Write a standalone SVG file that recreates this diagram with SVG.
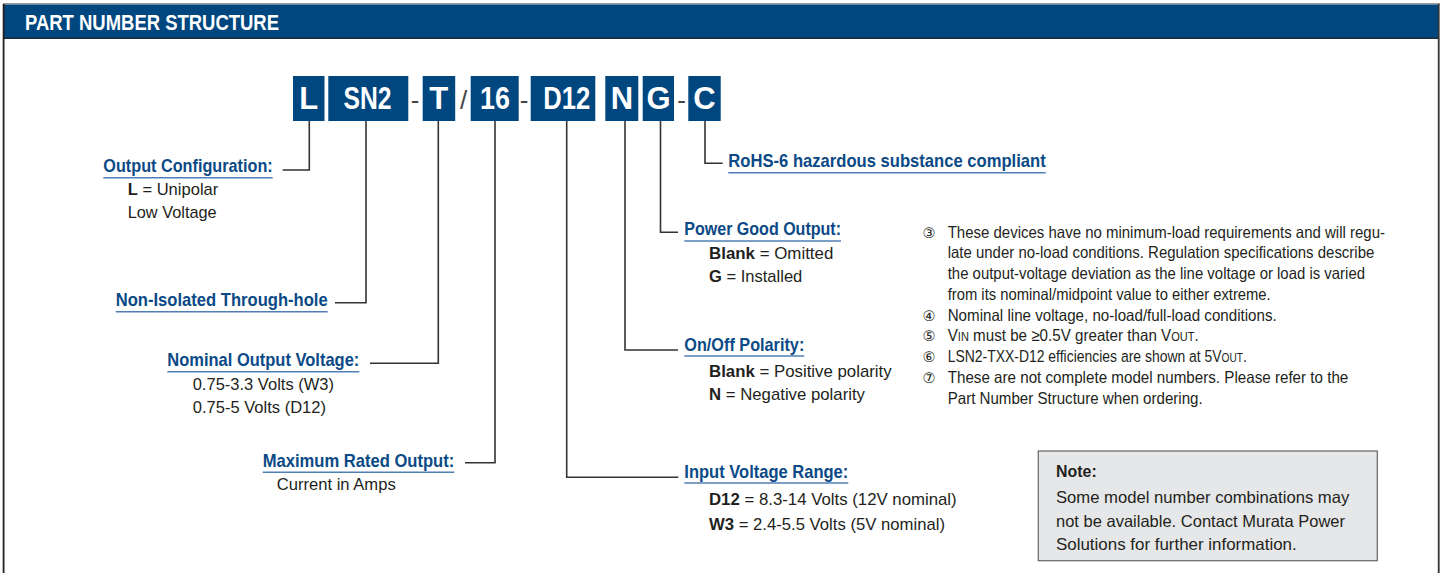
<svg xmlns="http://www.w3.org/2000/svg" width="1443" height="573" viewBox="0 0 1443 573">
<defs>
<style>
.hdr{font-family:"Liberation Sans Narrow","Liberation Sans",Arial,sans-serif;font-weight:bold;font-size:21.5px;fill:#ffffff}
.pbox{fill:#00467f}
.ptxt{font-family:"Liberation Sans Narrow","Liberation Sans",Arial,sans-serif;font-weight:bold;font-size:31px;fill:#ffffff;text-anchor:middle}
.sep{font-family:"Liberation Sans","Arial",sans-serif;font-size:26px;fill:#444444;text-anchor:middle}
.lbl{font-family:"Liberation Sans Narrow","Liberation Sans",Arial,sans-serif;font-weight:bold;font-size:19px;fill:#0b4a86}
.ul{stroke:#4f7fb3;stroke-width:1.4;fill:none}
.body{font-family:"Liberation Sans Narrow","Liberation Sans",Arial,sans-serif;font-size:17px;fill:#231f20}
.note{font-family:"Liberation Sans Narrow","Liberation Sans",Arial,sans-serif;font-size:16.5px;fill:#231f20}
.num{font-family:"DejaVu Sans","Noto Sans CJK JP",sans-serif;font-size:14.5px;fill:#231f20;text-anchor:middle}
.b{font-weight:bold}
.conn{stroke:#333333;stroke-width:1.6;fill:none}
</style>
</defs>

<!-- frame -->
<g id="frame">
<rect x="3" y="3" width="1437" height="1.5" fill="#9a9a9a"/>
<rect x="3" y="4.5" width="1436" height="34" fill="#00467f"/>
<rect x="3" y="37.5" width="1436" height="1.5" fill="#1d2a3a"/>
<rect x="2.7" y="4" width="1.8" height="569" fill="#231f20"/>
<rect x="1437.8" y="4" width="1.8" height="569" fill="#333333"/>
<text class="hdr" x="25" y="30" textLength="254" lengthAdjust="spacingAndGlyphs">PART NUMBER STRUCTURE</text>
</g>

<!-- part number boxes -->
<g id="part-L"><rect class="pbox" x="293" y="76" width="31.5" height="45"/><text class="ptxt" x="308.7" y="109">L</text></g>
<g id="part-SN2"><rect class="pbox" x="328.3" y="76" width="80" height="45"/><text class="ptxt" x="367.5" y="109" textLength="48" lengthAdjust="spacingAndGlyphs">SN2</text></g>
<g id="sep1"><text class="sep" x="415" y="109">-</text></g>
<g id="part-T"><rect class="pbox" x="422.7" y="76" width="32.5" height="45"/><text class="ptxt" x="438.8" y="109">T</text></g>
<g id="sep2"><text class="sep" x="463.5" y="109">/</text></g>
<g id="part-16"><rect class="pbox" x="470.7" y="76" width="48" height="45"/><text class="ptxt" x="495" y="109" textLength="30" lengthAdjust="spacingAndGlyphs">16</text></g>
<g id="sep3"><text class="sep" x="524" y="109">-</text></g>
<g id="part-D12"><rect class="pbox" x="530.7" y="76" width="64.6" height="45"/><text class="ptxt" x="566.7" y="109" textLength="47" lengthAdjust="spacingAndGlyphs">D12</text></g>
<g id="part-N"><rect class="pbox" x="605.3" y="76" width="33" height="45"/><text class="ptxt" x="622" y="109">N</text></g>
<g id="part-G"><rect class="pbox" x="642.7" y="76" width="31.3" height="45"/><text class="ptxt" x="658.5" y="109">G</text></g>
<g id="sep4"><text class="sep" x="681.5" y="109">-</text></g>
<g id="part-C"><rect class="pbox" x="688.3" y="76" width="32.4" height="45"/><text class="ptxt" x="704.5" y="109">C</text></g>

<!-- connectors -->
<g id="connectors">
<polyline class="conn" points="309.3,121 309.3,170 282.7,170"/>
<polyline class="conn" points="366,121 366,302.7 335,302.7"/>
<polyline class="conn" points="438.3,121 438.3,363.3 370,363.3"/>
<polyline class="conn" points="495,121 495,462.7 465,462.7"/>
<polyline class="conn" points="566.7,121 566.7,477.3 678.3,477.3"/>
<polyline class="conn" points="625,121 625,350 678,350"/>
<polyline class="conn" points="660.5,121 660.5,232.3 678,232.3"/>
<polyline class="conn" points="705,121 705,163.3 722.7,163.3"/>
</g>

<!-- labels -->
<g id="label-output-config">
<text class="lbl" x="103.3" y="171.7" textLength="169.4" lengthAdjust="spacingAndGlyphs">Output Configuration:</text>
<line class="ul" x1="103.3" y1="177.7" x2="272.7" y2="177.7"/>
<text class="body" x="127.7" y="195" textLength="90.6" lengthAdjust="spacingAndGlyphs"><tspan class="b">L</tspan> = Unipolar</text>
<text class="body" x="127.7" y="218.3" textLength="89" lengthAdjust="spacingAndGlyphs">Low Voltage</text>
</g>

<g id="label-non-isolated">
<text class="lbl" x="115.7" y="305.7" textLength="212" lengthAdjust="spacingAndGlyphs">Non-Isolated Through-hole</text>
<line class="ul" x1="115.7" y1="311.7" x2="327.7" y2="311.7"/>
</g>

<g id="label-nominal-voltage">
<text class="lbl" x="167.3" y="365.7" textLength="192" lengthAdjust="spacingAndGlyphs">Nominal Output Voltage:</text>
<line class="ul" x1="167.3" y1="371.7" x2="359.3" y2="371.7"/>
<text class="body" x="192.7" y="390" textLength="141.3" lengthAdjust="spacingAndGlyphs">0.75-3.3 Volts (W3)</text>
<text class="body" x="192.7" y="413.3" textLength="133.3" lengthAdjust="spacingAndGlyphs">0.75-5 Volts (D12)</text>
</g>

<g id="label-max-output">
<text class="lbl" x="262.7" y="466.7" textLength="191.6" lengthAdjust="spacingAndGlyphs">Maximum Rated Output:</text>
<line class="ul" x1="262.7" y1="472.3" x2="454.3" y2="472.3"/>
<text class="body" x="276.7" y="490" textLength="119" lengthAdjust="spacingAndGlyphs">Current in Amps</text>
</g>

<g id="label-rohs">
<text class="lbl" x="728.3" y="166.7" textLength="317.4" lengthAdjust="spacingAndGlyphs">RoHS-6 hazardous substance compliant</text>
<line class="ul" x1="728.3" y1="172.7" x2="1045.7" y2="172.7"/>
</g>

<g id="label-power-good">
<text class="lbl" x="684.3" y="235" textLength="156.7" lengthAdjust="spacingAndGlyphs">Power Good Output:</text>
<line class="ul" x1="684.3" y1="241" x2="841" y2="241"/>
<text class="body" x="709" y="259" textLength="124.3" lengthAdjust="spacingAndGlyphs"><tspan class="b">Blank</tspan> = Omitted</text>
<text class="body" x="709" y="282.3" textLength="93.3" lengthAdjust="spacingAndGlyphs"><tspan class="b">G</tspan> = Installed</text>
</g>

<g id="label-onoff">
<text class="lbl" x="684.3" y="350.7" textLength="120" lengthAdjust="spacingAndGlyphs">On/Off Polarity:</text>
<line class="ul" x1="684.3" y1="356" x2="804.3" y2="356"/>
<text class="body" x="709" y="377.3" textLength="182.7" lengthAdjust="spacingAndGlyphs"><tspan class="b">Blank</tspan> = Positive polarity</text>
<text class="body" x="709" y="400" textLength="156" lengthAdjust="spacingAndGlyphs"><tspan class="b">N</tspan> = Negative polarity</text>
</g>

<g id="label-input-voltage">
<text class="lbl" x="684.3" y="478.3" textLength="164" lengthAdjust="spacingAndGlyphs">Input Voltage Range:</text>
<line class="ul" x1="684.3" y1="483" x2="848.3" y2="483"/>
<text class="body" x="709" y="505" textLength="247.7" lengthAdjust="spacingAndGlyphs"><tspan class="b">D12</tspan> = 8.3-14 Volts (12V nominal)</text>
<text class="body" x="709" y="530" textLength="236" lengthAdjust="spacingAndGlyphs"><tspan class="b">W3</tspan> = 2.4-5.5 Volts (5V nominal)</text>
</g>

<!-- footnotes -->
<g id="footnotes">
<text class="num" x="929" y="237.5">③</text>
<text class="note" x="947.7" y="237.5" textLength="437.3" lengthAdjust="spacingAndGlyphs">These devices have no minimum-load requirements and will regu-</text>
<text class="note" x="947.7" y="258.3" textLength="426.6" lengthAdjust="spacingAndGlyphs">late under no-load conditions. Regulation specifications describe</text>
<text class="note" x="947.7" y="279" textLength="417.3" lengthAdjust="spacingAndGlyphs">the output-voltage deviation as the line voltage or load is varied</text>
<text class="note" x="947.7" y="299.8" textLength="323" lengthAdjust="spacingAndGlyphs">from its nominal/midpoint value to either extreme.</text>
<text class="num" x="929" y="320.5">④</text>
<text class="note" x="947.7" y="320.5" textLength="329" lengthAdjust="spacingAndGlyphs">Nominal line voltage, no-load/full-load conditions.</text>
<text class="num" x="929" y="341.3">⑤</text>
<text class="note" transform="translate(947.7 341.3) scale(0.92 1)" x="0" y="0">V<tspan font-size="12">IN</tspan> must be ≥0.5V greater than V<tspan font-size="12">OUT</tspan>.</text>
<text class="num" x="929" y="362">⑥</text>
<text class="note" transform="translate(947.7 362) scale(0.845 1)" x="0" y="0">LSN2-TXX-D12 efficiencies are shown at 5V<tspan font-size="12">OUT</tspan>.</text>
<text class="num" x="929" y="382.8">⑦</text>
<text class="note" x="947.7" y="382.8" textLength="400.6" lengthAdjust="spacingAndGlyphs">These are not complete model numbers. Please refer to the</text>
<text class="note" x="947.7" y="403.5" textLength="255" lengthAdjust="spacingAndGlyphs">Part Number Structure when ordering.</text>
</g>

<!-- note box -->
<g id="note-box">
<rect x="1038.3" y="451" width="339" height="109.7" fill="#e6e7e8" stroke="#6d6e71" stroke-width="1.3"/>
<text class="note b" x="1056" y="477.3" textLength="40.7" lengthAdjust="spacingAndGlyphs" font-size="17">Note:</text>
<text class="note" x="1056" y="503.3" textLength="293.3" lengthAdjust="spacingAndGlyphs" font-size="17">Some model number combinations may</text>
<text class="note" x="1056" y="526.7" textLength="289" lengthAdjust="spacingAndGlyphs" font-size="17">not be available. Contact Murata Power</text>
<text class="note" x="1056" y="550" textLength="240.7" lengthAdjust="spacingAndGlyphs" font-size="17">Solutions for further information.</text>
</g>
</svg>
